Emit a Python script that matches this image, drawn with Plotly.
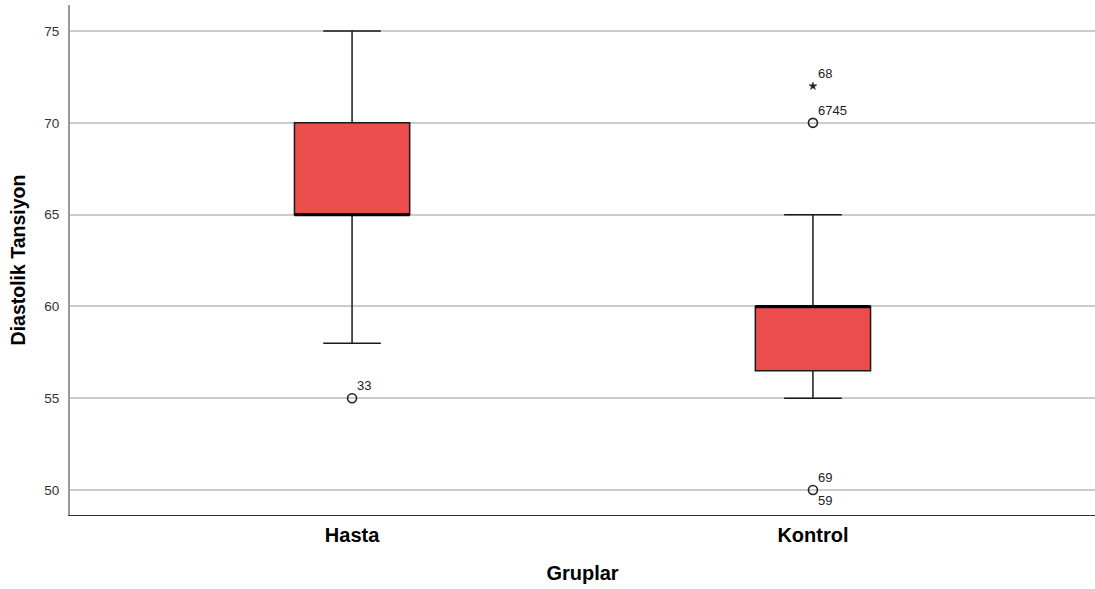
import plotly.graph_objects as go

# Data
categories = ["Hasta", "Kontrol"]
q1 = [65, 56.5]
median = [65, 60]
q3 = [70, 60]
lower_whisker = [58, 55]
upper_whisker = [75, 65]

# Outliers: (group index, value, symbol, labels above, labels below)
outlier_group = [0, 1, 1, 1]
outlier_value = [55, 70, 72, 50]
outlier_symbol = ["circle-open", "circle-open", "star", "circle-open"]
outlier_labels_above = [["33"], ["67", "45"], ["68"], ["69"]]
outlier_labels_below = [[], [], [], ["59"]]

y_ticks = [50, 55, 60, 65, 70, 75]

box_w = 0.25
fill = "#EB4C4C"
font = "Liberation Sans, Arial, sans-serif"

fig = go.Figure()
for i, cat in enumerate(categories):
    fig.add_trace(go.Box(
        x=[i], q1=[q1[i]], median=[median[i]], q3=[q3[i]],
        lowerfence=[lower_whisker[i]], upperfence=[upper_whisker[i]],
        width=box_w, whiskerwidth=0.5, fillcolor=fill,
        line=dict(color="#1a1a1a", width=1.5), boxpoints=False,
        hoverinfo="skip", showlegend=False,
    ))
    # thick median line
    fig.add_trace(go.Scatter(
        x=[i - box_w / 2, i + box_w / 2], y=[median[i], median[i]],
        mode="lines", line=dict(color="#000000", width=3),
        hoverinfo="skip", showlegend=False,
    ))

for g, v, s in zip(outlier_group, outlier_value, outlier_symbol):
    fig.add_trace(go.Scatter(
        x=[g], y=[v], mode="markers",
        marker=dict(symbol=s, size=9 if s != "star" else 6, color="#222222",
                    line=dict(width=1.6 if s != "star" else 0.5, color="#222222")),
        hoverinfo="skip", showlegend=False,
    ))

annotations = []
for g, v, above, below in zip(outlier_group, outlier_value, outlier_labels_above, outlier_labels_below):
    if above:
        annotations.append(dict(x=g, y=v, text="".join(above), showarrow=False,
                                xanchor="left", yanchor="bottom", xshift=3, yshift=3,
                                font=dict(family=font, size=13, color="#222222")))
    if below:
        annotations.append(dict(x=g, y=v, text="".join(below), showarrow=False,
                                xanchor="left", yanchor="top", xshift=3, yshift=-1,
                                font=dict(family=font, size=13, color="#222222")))

fig.update_layout(
    width=1095, height=589,
    margin=dict(l=70, r=0, t=5, b=74),
    plot_bgcolor="white", paper_bgcolor="white",
    font=dict(family=font, color="#222222"),
    annotations=annotations,
    xaxis=dict(
        range=[-0.612, 1.612], tickvals=list(range(len(categories))), ticktext=categories,
        tickfont=dict(family=font, size=20, color="#000000", weight="bold"),
        showgrid=False, zeroline=False, showline=True, linecolor="#333333", linewidth=1,
        ticks="", ticklabelstandoff=2, automargin=False,
        title=dict(text="Gruplar", font=dict(family=font, size=20, color="#000000", weight="bold"),
                   standoff=20),
    ),
    yaxis=dict(
        range=[48.64, 76.42], tickvals=y_ticks,
        tickfont=dict(family=font, size=13.5, color="#333333"),
        showgrid=True, gridcolor="#CCCCCC", gridwidth=1.5, zeroline=False,
        showline=True, linecolor="#999999", linewidth=2, ticks="", ticklabelstandoff=6,
        automargin=False,
        title=dict(text="Diastolik Tansiyon", font=dict(family=font, size=19.5, color="#000000", weight="bold"),
                   standoff=13),
    ),
)

fig.write_html("out.html", config={"displayModeBar": False},
               post_script="document.body.style.margin='0';document.body.style.overflow='hidden';")
